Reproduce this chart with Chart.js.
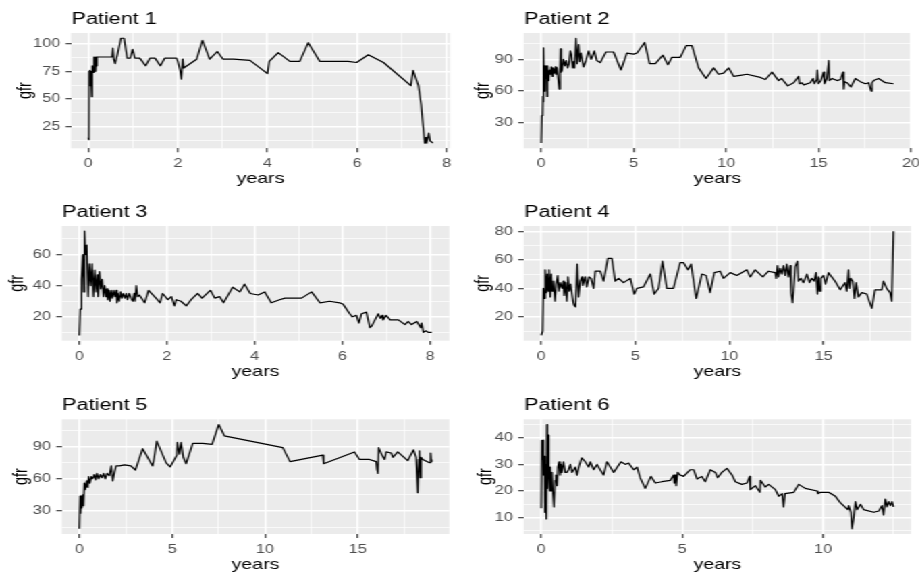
<!DOCTYPE html>
<html><head><meta charset="utf-8">
<script src="https://cdn.jsdelivr.net/npm/chart.js@4.4.1/dist/chart.umd.min.js"></script>
<style>
html,body{margin:0;padding:0;background:#fff;overflow:hidden;width:919px;height:579px;}
#wrap{position:absolute;left:0;top:0;width:681px;height:579px;transform:scaleX(1.35);transform-origin:0 0;}
.cell{position:absolute;}
.cell canvas{display:block;}
</style></head><body><div id="wrap"></div>
<script>
// ---------------- DATA ----------------
const titles = ['Patient 1','Patient 2','Patient 3','Patient 4','Patient 5','Patient 6'];
const xLabel = 'years';
const yLabel = 'gfr';

const p1Years = [0,0.015,0.02,0.03,0.04,0.05,0.06,0.08,0.09,0.11,0.12,0.13,0.14,0.15,0.16,0.17,0.18,0.19,0.2,0.3,0.4,0.53,0.55,0.57,0.6,0.65,0.73,0.8,0.87,0.94,0.99,1.04,1.15,1.28,1.38,1.49,1.61,1.71,1.97,2.0,2.05,2.08,2.11,2.13,2.42,2.55,2.71,2.88,3.01,3.24,3.61,4.0,4.04,4.24,4.5,4.72,4.91,5.17,5.8,5.99,6.25,6.59,7.2,7.25,7.3,7.37,7.43,7.47,7.51,7.53,7.55,7.6,7.63,7.66,7.69];
const p1Gfr   = [15,13,75,65,76,62,75,52,80,75,88,74,88,76,88,75,88,80,88,88,88,88,96,86,82,90,105,105,87,87,95,87,87,80,87,87,80,87,87,84,76,68,86,78,86,103,86,93,86,86,85,73,84,92,84,84,101,84,84,83,90,83,62,76,70,62,45,27,10,15,10,19,12,11,10];

const p2Years = [0,0.03,0.07,0.09,0.11,0.13,0.16,0.2,0.24,0.28,0.31,0.34,0.38,0.41,0.45,0.5,0.54,0.6,0.63,0.7,0.76,0.8,0.85,0.9,0.97,1.02,1.05,1.08,1.13,1.2,1.28,1.35,1.43,1.5,1.57,1.63,1.7,1.76,1.8,1.88,1.94,2.02,2.08,2.15,2.29,2.4,2.56,2.7,2.87,3.0,3.19,3.5,3.91,4.31,4.63,5.0,5.18,5.59,5.86,6.17,6.58,6.85,7.07,7.52,7.84,8.15,8.51,8.91,9.32,9.59,9.86,10.14,10.4,10.77,11.13,11.85,12.12,12.48,12.84,13.0,13.33,13.65,13.92,13.97,14.1,14.2,14.55,14.7,14.77,14.9,14.93,14.99,15.12,15.27,15.32,15.45,15.55,15.58,15.73,16.0,16.18,16.32,16.36,16.41,16.54,16.75,16.99,17.26,17.53,17.71,17.84,17.89,17.98,18.25,18.61,19.05];
const p2Gfr   = [11,37,38,55,50,101,60,84,72,84,55,84,70,72,80,76,83,74,82,77,83,76,82,74,62,80,100,78,80,90,84,89,82,86,98,95,82,88,82,110,86,104,88,96,83,88,98,90,98,89,87,97,97,80,96,95,96,106,86,86,94,85,92,92,103,103,82,72,82,76,77,82,74,75,76,73,71,78,70,72,65,68,74,67,68,66,68,72,67,71,80,67,70,78,67,72,89,70,72,70,71,78,62,69,68,64,72,69,67,68,60,68,70,72,68,67];

const p3Years = [0,0.02,0.04,0.05,0.08,0.1,0.12,0.14,0.17,0.2,0.23,0.26,0.29,0.32,0.35,0.38,0.41,0.43,0.46,0.49,0.52,0.55,0.58,0.61,0.63,0.65,0.67,0.7,0.72,0.75,0.78,0.81,0.84,0.86,0.88,0.91,0.94,0.97,1.0,1.04,1.07,1.1,1.14,1.18,1.22,1.25,1.27,1.3,1.33,1.37,1.49,1.58,1.75,1.84,1.9,2.02,2.1,2.17,2.21,2.32,2.44,2.55,2.7,2.8,2.99,3.09,3.2,3.29,3.5,3.66,3.77,3.9,4.08,4.23,4.38,4.57,4.69,5.07,5.3,5.49,5.71,5.94,6.02,6.17,6.23,6.32,6.38,6.44,6.55,6.63,6.67,6.82,6.87,6.91,6.93,7.0,7.09,7.28,7.43,7.5,7.58,7.7,7.79,7.81,7.85,7.91,7.96,8.04];
const p3Gfr   = [8,25,25,44,60,36,75,60,66,33,54,40,54,33,50,36,47,33,49,38,44,33,40,33,38,31,37,30,37,32,37,33,37,29,35,30,36,32,35,32,35,31,35,32,30,35,30,40,33,34,29,37,32,29,35,31,33,27,31,30,27,31,35,32,37,32,33,29,39,36,41,35,34,36,29,31,32,32,36,29,30,29,28,22,20,21,16,22,23,13,14,22,19,21,18,21,18,18,15,17,15,17,13,16,10,11,10,10];

const p4Years = [0,0.07,0.11,0.16,0.21,0.27,0.32,0.37,0.42,0.48,0.53,0.58,0.65,0.73,0.8,0.87,0.94,1.01,1.1,1.17,1.22,1.29,1.36,1.42,1.49,1.56,1.63,1.7,1.75,1.82,1.91,1.98,2.07,2.16,2.21,2.34,2.42,2.53,2.65,2.78,2.87,3.13,3.31,3.54,3.75,3.93,4.11,4.37,4.73,4.94,5.08,5.43,5.79,6.0,6.23,6.44,6.67,7.02,7.38,7.56,7.79,7.96,8.23,8.53,8.76,8.97,9.19,9.5,9.68,10.04,10.39,10.92,11.1,11.36,11.77,12.07,12.42,12.48,12.55,12.6,12.69,12.78,12.87,12.96,13.04,13.13,13.22,13.27,13.35,13.49,13.61,13.66,13.79,13.93,14.11,14.25,14.37,14.5,14.6,14.67,14.73,14.78,14.85,14.99,15.1,15.26,15.43,15.61,15.88,16.14,16.23,16.32,16.37,16.44,16.55,16.64,16.73,16.85,17.03,17.29,17.56,17.73,18.09,18.18,18.35,18.53,18.62,18.71];
const p4Gfr   = [7,10,40,33,53,37,50,38,53,34,50,38,45,31,43,49,38,44,40,45,35,44,31,48,38,43,36,30,28,27,57,34,45,48,42,48,41,48,47,40,52,52,45,61,61,45,47,44,47,36,40,41,50,36,40,59,40,40,58,58,53,57,33,50,49,37,51,52,47,51,49,53,48,53,48,52,51,47,56,48,54,50,56,49,57,48,56,37,30,55,59,45,47,44,50,44,47,45,51,36,48,38,47,49,43,51,48,45,39,44,38,53,40,47,45,33,44,34,37,36,26,39,39,45,40,37,31,80];

const p5Years = [0,0.04,0.07,0.11,0.14,0.18,0.22,0.27,0.32,0.4,0.45,0.5,0.57,0.65,0.72,0.81,0.88,0.95,1.04,1.13,1.22,1.31,1.4,1.49,1.62,1.72,1.8,1.89,1.98,2.16,2.43,2.78,3.02,3.41,3.95,4.04,4.17,4.67,4.89,5.25,5.28,5.39,5.48,5.53,5.6,5.75,6.11,6.65,7.15,7.51,7.81,10.96,11.35,13.11,13.16,14.82,15.09,15.63,15.99,16.03,16.08,16.12,16.27,16.44,16.53,16.8,16.89,17.15,17.69,18.0,18.14,18.23,18.28,18.32,18.36,18.41,18.5,18.86,18.92,18.96,18.98];
const p5Gfr   = [13.5,44,28,44,33,45,35,56,50,58,52,62,56,62,60,64,59,65,60,64,61,65,60,65,63,72,58,66,72,72,73,72,68,88,72,80,95,75,71,82,94,83,94,94,80,74,93,93,92,110.5,100,89,76,82,74,85,78,78,76,69,65,89,83,78,85,84,80,85,77,87,80,47,78,86,61,80,78,75,84,76,78];

const p6Years = [0,0.02,0.05,0.07,0.08,0.11,0.13,0.15,0.18,0.2,0.22,0.25,0.27,0.3,0.32,0.34,0.38,0.41,0.45,0.49,0.52,0.56,0.59,0.63,0.67,0.7,0.73,0.79,0.85,0.91,0.97,1.03,1.09,1.15,1.21,1.27,1.33,1.44,1.56,1.68,1.74,1.86,1.98,2.09,2.21,2.33,2.45,2.57,2.83,2.98,3.1,3.28,3.4,3.51,3.69,3.89,4.05,4.28,4.58,4.7,4.72,4.76,4.79,4.84,4.93,5.05,5.29,5.41,5.53,5.7,5.82,6.0,6.18,6.26,6.41,6.59,6.77,6.89,7.12,7.3,7.4,7.42,7.6,7.76,7.78,7.95,8.07,8.31,8.43,8.55,8.6,8.65,8.96,9.14,9.37,9.79,9.82,9.91,10.2,10.44,10.62,10.88,10.91,10.99,11.03,11.09,11.15,11.21,11.33,11.44,11.8,11.98,12.09,12.15,12.21,12.27,12.33,12.39,12.45,12.5];
const p6Gfr   = [13.5,39,32,39,26,33,12,30,9.5,45,21,41,28,20,29,20,27,20,14,24,26,22,29,31,26,30,27,31,27,27,28,30,27,28,29,26,29,32.5,31,29,31,28,30,28,26,31,29,27,31,30,30.5,28,29,25,21,25.5,23,23.5,24,26,23,26,22,27,26,25.5,28,28,24.5,25.5,23.5,28,27,25,27,28.5,26,23.5,22.5,23,25.5,20.5,22,19.5,24,21.5,22.5,20.5,18,19,14,19,19.5,22.5,21,20,19,19.5,19.5,18,15.5,13,14.5,12,5.8,10,16,13,15,13,12,12.5,14.5,11,17,14,16,14.5,16,14];

const xMajorTicks = [[0,2,4,6,8],[0,5,10,15,20],[0,2,4,6,8],[0,5,10,15],[0,5,10,15],[0,5,10]];
const xMinorTicks = [[1,3,5,7],[2.5,7.5,12.5,17.5],[1,3,5,7],[2.5,7.5,12.5,17.5],[2.5,7.5,12.5,17.5],[2.5,7.5,12.5]];
const yMajorTicks = [[25,50,75,100],[30,60,90],[20,40,60],[20,40,60,80],[30,60,90],[10,20,30,40]];
const yMinorTicks = [[12.5,37.5,62.5,87.5],[15,45,75,105],[10,30,50,70],[10,30,50,70],[15,45,75,105],[5,15,25,35,45]];

const seriesYears = [p1Years,p2Years,p3Years,p4Years,p5Years,p6Years];
const seriesGfr = [p1Gfr,p2Gfr,p3Gfr,p4Gfr,p5Gfr,p6Gfr];

// ---------------- LAYOUT (target pixel geometry) ----------------
const S = 1.35; // horizontal stretch of the whole figure
const layout = [
  {col:0,rowTop:0,  L:71,   T:33,   R:450,   B:148.3, titleBase:24.3,  yTitleX:25},
  {col:1,rowTop:0,  L:523.3,T:33,   R:910.7, B:148.3, titleBase:24.3,  yTitleX:483.3},
  {col:0,rowTop:195,L:61.7, T:226,  R:449.3, B:340.7, titleBase:216.7, yTitleX:17.3},
  {col:1,rowTop:195,L:523.3,T:226,  R:910.7, B:340.7, titleBase:216.7, yTitleX:482.7},
  {col:0,rowTop:385,L:61.7, T:419.3,R:449.3, B:534,   titleBase:410,   yTitleX:21.7},
  {col:1,rowTop:385,L:523.3,T:419.3,R:910.7, B:534,   titleBase:410,   yTitleX:485}
];

Chart.defaults.font.family = "'Liberation Sans', Arial, sans-serif";
Chart.defaults.animation = false;

const panelBg = {
  id:'panelBg',
  beforeDraw(chart){
    const {ctx, chartArea:a} = chart;
    ctx.save(); ctx.fillStyle = '#EBEBEB';
    ctx.fillRect(a.left, a.top, a.right-a.left, a.bottom-a.top);
    ctx.restore();
  }
};
const panelTitle = {
  id:'panelTitle',
  afterDraw(chart, args, opts){
    const ctx = chart.ctx;
    ctx.save();
    ctx.font = "16px 'Liberation Sans', Arial, sans-serif";
    ctx.fillStyle = '#000';
    ctx.textBaseline = 'alphabetic';
    ctx.textAlign = 'left';
    ctx.fillText(opts.text, chart.chartArea.left + 0.4, opts.baseline);
    ctx.restore();
  }
};

function near(list, v){ return list.some(m => Math.abs(m - v) < 1e-9); }
function ext(arr){ const mn=Math.min(...arr), mx=Math.max(...arr), r=mx-mn; return [mn-0.05*r, mx+0.05*r]; }

function axis(majors, minors, lim, opts){
  return Object.assign({
    type:'linear', min:lim[0], max:lim[1],
    afterBuildTicks(scale){
      const all = majors.concat(minors).filter(v => v >= lim[0] && v <= lim[1]).sort((a,b)=>a-b);
      scale.ticks = all.map(v => ({value:v}));
    },
    grid:{
      color:'#FFFFFF',
      lineWidth:(c)=> (c.tick && near(majors, c.tick.value)) ? 1.4 : 0.7,
      tickColor:(c)=> (c.tick && near(majors, c.tick.value)) ? '#333333' : 'rgba(0,0,0,0)',
      tickWidth:1.1, tickLength:4, drawTicks:true, drawOnChartArea:true
    },
    border:{display:false},
  }, opts);
}

const wrap = document.getElementById('wrap');
layout.forEach((g, i) => {
  const colLeft = g.col === 0 ? 0 : 460 / S;
  const cw = 346;
  const Lu = g.L / S, Ru = g.R / S;
  const wy = Lu - colLeft;
  const pr = cw - (Ru - colLeft);
  const pt = g.T - g.rowTop;
  const ph = g.B - g.T;
  const ch = Math.round(pt + ph + 31 + 8.7 + 2);
  const hx = ch - pt - ph;
  const xTitlePad = ch - 8.7 - (g.B - g.rowTop + 31);
  const yTitlePad = g.yTitleX / S - colLeft - 8.7;

  const div = document.createElement('div');
  div.className = 'cell';
  div.style.left = colLeft + 'px'; div.style.top = g.rowTop + 'px';
  div.style.width = cw + 'px'; div.style.height = ch + 'px';
  const cv = document.createElement('canvas');
  cv.width = cw; cv.height = ch;
  cv.style.width = cw + 'px'; cv.style.height = ch + 'px';
  div.appendChild(cv); wrap.appendChild(div);

  const xs = seriesYears[i], ys = seriesGfr[i];
  const xLim = ext(xs), yLim = ext(ys);
  const xMaj = xMajorTicks[i], yMaj = yMajorTicks[i];

  new Chart(cv, {
    type:'line',
    data:{ datasets:[{
      data: xs.map((x, k) => ({x:x, y:ys[k]})),
      borderColor:'#000000', borderWidth:1.2, pointRadius:0, tension:0,
      fill:false, borderJoinStyle:'round'
    }]},
    options:{
      responsive:false, devicePixelRatio:1, animation:false, events:[],
      layout:{ padding:{left:0, top:pt, right:pr, bottom:0} },
      plugins:{ legend:{display:false}, tooltip:{enabled:false},
                panelTitle:{ text:titles[i], baseline:g.titleBase - g.rowTop } },
      scales:{
        x: axis(xMaj, xMinorTicks[i], xLim, {
          position:'bottom',
          afterFit(s){ s.height = hx; },
          ticks:{ autoSkip:false, maxRotation:0, minRotation:0, padding:4.5, color:'#4D4D4D',
                  font:{size:12}, callback:(v)=> near(xMaj, v) ? String(v) : '' },
          title:{ display:true, text:xLabel, color:'#000', font:{size:14.5},
                  padding:{top:0, bottom:xTitlePad} }
        }),
        y: axis(yMaj, yMinorTicks[i], yLim, {
          position:'left',
          afterFit(s){ s.width = wy; },
          ticks:{ autoSkip:false, padding:4, color:'#4D4D4D',
                  font:{size:12}, callback:(v)=> near(yMaj, v) ? String(v) : '' },
          title:{ display:true, text:yLabel, color:'#000', font:{size:14.5},
                  padding:{top:yTitlePad, bottom:0} }
        })
      }
    },
    plugins:[panelBg, panelTitle]
  });
});
</script></body></html>
